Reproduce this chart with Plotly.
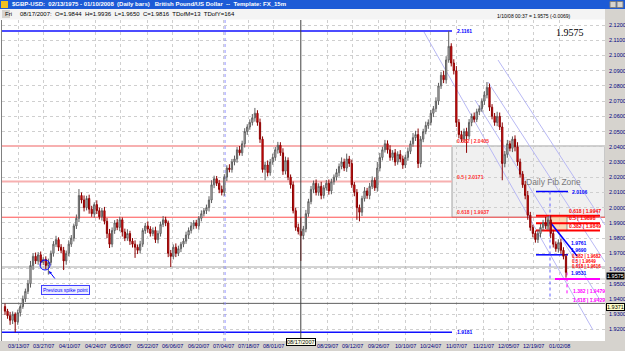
import plotly.graph_objects as go

# ---------------- data ----------------
closes = [
1.9320,1.9290,1.9260,1.9300,1.9250,1.9310,1.9350,1.9400,1.9450,1.9500,
1.9620,1.9680,1.9650,1.9690,1.9640,1.9660,1.9620,1.9640,1.9700,1.9760,
1.9790,1.9740,1.9720,1.9650,1.9700,1.9760,1.9800,1.9880,1.9930,2.0080,
2.0050,2.0000,2.0060,1.9990,1.9960,2.0020,1.9980,1.9940,1.9980,1.9910,
1.9830,1.9760,1.9850,1.9900,1.9870,1.9920,1.9840,1.9800,1.9830,1.9780,
1.9760,1.9740,1.9720,1.9760,1.9850,1.9880,1.9860,1.9830,1.9850,1.9790,
1.9830,1.9890,1.9920,1.9900,1.9700,1.9680,1.9740,1.9700,1.9730,1.9760,
1.9780,1.9820,1.9850,1.9880,1.9900,1.9880,1.9930,1.9960,1.9980,2.0000,
2.0050,2.0150,2.0190,2.0160,2.0120,2.0100,2.0200,2.0260,2.0250,2.0300,
2.0320,2.0380,2.0360,2.0420,2.0500,2.0530,2.0560,2.0590,2.0620,2.0560,
2.0450,2.0250,2.0280,2.0230,2.0300,2.0330,2.0380,2.0410,2.0360,2.0240,
2.0310,2.0200,2.0150,1.9980,1.9870,1.9844,1.9816,1.9860,1.9960,2.0040,
2.0120,2.0160,2.0100,2.0140,2.0080,2.0130,2.0160,2.0110,2.0170,2.0200,
2.0230,2.0270,2.0300,2.0260,2.0320,2.0290,2.0150,2.0100,2.0000,1.9970,
2.0060,2.0110,2.0080,2.0140,2.0180,2.0130,2.0260,2.0330,2.0380,2.0420,
2.0380,2.0330,2.0360,2.0300,2.0350,2.0320,2.0280,2.0330,2.0370,2.0420,
2.0460,2.0480,2.0290,2.0450,2.0500,2.0540,2.0560,2.0620,2.0650,2.0700,
2.0800,2.0870,2.0840,2.0970,2.1060,2.0950,2.0900,2.0560,2.0480,2.0450,
2.0500,2.0470,2.0560,2.0600,2.0580,2.0630,2.0650,2.0700,2.0740,2.0790,
2.0660,2.0600,2.0560,2.0600,2.0530,2.0290,2.0350,2.0420,2.0390,2.0450,
2.0400,2.0300,2.0220,2.0150,2.0080,1.9950,1.9870,1.9830,1.9790,1.9830,
1.9870,1.9900,1.9880,1.9920,1.9830,1.9760,1.9730,1.9770,1.9720,1.9680,1.9575]
first_open = 1.9350
# upper / lower wick lengths in pips
up_wick = [
20,15,25,18,12,20,15,22,18,25,
30,20,25,18,22,15,20,25,18,20,
25,15,20,22,18,25,20,15,25,42,
20,30,18,25,22,15,28,20,18,25,
22,30,20,18,25,20,15,22,28,18,
20,25,18,22,15,20,30,18,20,25,
20,18,25,20,15,22,18,25,20,15,
18,22,20,25,18,20,15,22,18,20,
25,30,20,18,22,25,20,18,25,20,
22,18,25,20,22,18,20,25,35,20,
25,18,22,30,20,25,18,22,20,30,
25,20,18,22,20,25,92,20,25,18,
22,18,25,20,30,18,22,25,20,18,
25,20,30,22,35,20,25,18,22,20,
18,25,20,22,25,18,40,30,20,25,
22,30,18,25,20,28,22,18,25,20,
30,25,40,20,18,25,20,22,18,25,
20,22,30,25,101,20,25,30,22,25,
20,25,22,18,25,20,22,18,25,35,
25,20,22,30,25,30,22,25,20,18,
25,30,22,20,25,30,22,18,20,25,
22,20,40,25,30,20,18,22,25,20,15]
dn_wick = [
25,20,30,25,69,20,25,15,20,18,
25,30,20,25,22,18,25,60,20,22,
18,25,20,60,25,20,18,22,20,25,
22,25,18,30,20,25,22,18,25,20,
30,25,20,22,18,25,30,20,18,25,
22,70,25,20,18,22,25,20,18,22,
25,20,18,22,25,70,20,25,18,22,
20,18,25,20,22,18,25,20,18,22,
25,20,22,18,25,20,22,25,18,20,
22,25,18,20,25,22,18,20,25,22,
25,20,70,25,20,18,22,25,20,25,
22,20,25,18,22,20,166,25,22,20,
18,25,20,22,25,20,18,25,22,20,
22,25,18,20,25,22,20,25,80,60,
25,20,22,25,18,20,25,22,20,18,
25,22,20,25,18,22,25,20,22,18,
20,22,30,25,20,18,22,20,25,22,
25,20,22,25,18,22,25,30,25,20,
20,110,22,25,20,18,22,20,25,22,
25,20,22,25,20,110,25,22,20,25,
30,25,22,20,25,30,22,25,20,22,
25,22,20,25,30,22,20,25,22,20,35]

tick_pos = [5.1,14.9,25.1,35.3,45.1,55.7,65.5,75.7,85.5,95.3,105.1,
            126.3,136.1,146.3,156.9,166.7,176.9,187.5,197.3,207.1,217.3]
tick_text = ["03/13/07","03/27/07","04/10/07","04/24/07","05/08/07","05/22/07",
             "06/06/07","06/20/07","07/04/07","07/18/07","08/01/07",
             "08/29/07","09/12/07","09/26/07","10/10/07","10/24/07","11/07/07",
             "11/21/07","12/05/07","12/19/07","01/02/08"]
y_ticks = [1.92,1.93,1.94,1.95,1.96,1.97,1.98,1.99,2.00,2.01,2.02,2.03,2.04,
           2.05,2.06,2.07,2.08,2.09,2.10,2.11,2.12]

swing_high, swing_low = 2.1161, 1.9181
big_fib_ratio = ["0.382", "0.5", "0.618"]
big_fib_price = [2.0405, 2.0171, 1.9937]
small_fib_high, small_fib_low = 2.0106, 1.9690
small_fib_price = [1.9947, 1.9898, 1.9849]
small_fib2_price = [1.9682, 1.9649, 1.9616]
ext_ratio = ["1.0", "1.382", "1.618"]
ext_price = [1.9531, 1.9479, 1.9429]
level_lines = [1.9610, 1.9531, 1.9371]
last_price = 1.9575
marker_bar = 116        # 08/17/2007
marker_bar2 = 86.3      # blue dotted vertical

assert len(closes) == len(up_wick) == len(dn_wick), (len(closes), len(up_wick), len(dn_wick))
opens = [first_open] + closes[:-1]
highs = [max(o, c) + u / 1e4 for o, c, u in zip(opens, closes, up_wick)]
lows = [min(o, c) - d / 1e4 for o, c, d in zip(opens, closes, dn_wick)]
idx = list(range(len(closes)))

# ---------------- geometry helpers (layout only) ----------------
W, H = 625, 351
PX0, PX1, PY0, PY1 = 2, 605, 20, 341
def bx(px): return (px - 5) / 2.55
def pp(py): return 2.12 - (py - 25) / 1522
def fx(px): return (px - PX0) / (PX1 - PX0)
def fy(py): return (PY1 - py) / (PY1 - PY0)
XR = [bx(PX0), bx(PX1)]
YR = [pp(PY1), pp(PY0)]
AXFONT = "Liberation Sans"

fig = go.Figure()
fig.add_trace(go.Candlestick(
    x=idx, open=opens, high=highs, low=lows, close=closes,
    increasing=dict(line=dict(color="#5e5e5e", width=1), fillcolor="#dadada"),
    decreasing=dict(line=dict(color="#8b0000", width=1), fillcolor="#ff1010"),
    whiskerwidth=0, showlegend=False, hoverinfo="skip"))

shapes = []
def rect_px(x0, y0, x1, y1, fill, line=None, layer="below"):
    shapes.append(dict(type="rect", xref="paper", yref="paper",
                       x0=fx(x0), x1=fx(x1), y0=fy(y1), y1=fy(y0),
                       fillcolor=fill, line=dict(width=1 if line else 0, color=line or fill),
                       layer=layer))
def dline(x0, y0, x1, y1, color, width=1, dash="solid", layer="between"):
    shapes.append(dict(type="line", xref="x", yref="y", x0=x0, y0=y0, x1=x1, y1=y1,
                       line=dict(color=color, width=width, dash=dash), layer=layer))

# window chrome
rect_px(0, 0, 625, 9, "#1d5bd6", layer="below")
rect_px(0, 9, 625, 19.5, "#f4f4f4", layer="below")
rect_px(605, 9, 625, 351, "#d6d3ce", layer="below")
rect_px(0, 341, 605, 351, "#d6d3ce", layer="below")
rect_px(1, 1, 8, 8, "#f0c020", layer="above")
rect_px(2, 10, 10, 18, "#d6d3ce", layer="above")
rect_px(610, 1.5, 616, 7.5, "#d6d3ce", line="#808080", layer="above")
rect_px(617, 1.5, 623, 7.5, "#d6d3ce", line="#808080", layer="above")
shapes.append(dict(type="line", xref="paper", yref="paper", x0=fx(1.5), x1=fx(1.5),
                   y0=0, y1=1, line=dict(color="#808080", width=1)))

# Daily Fib Zone box
box_x0 = bx(452)
shapes.append(dict(type="rect", xref="x", yref="y", x0=box_x0, x1=XR[1],
                   y0=big_fib_price[2], y1=big_fib_price[0],
                   fillcolor="#f0f0f0", line=dict(color="#a0a0a0", width=1), layer="below"))
# full-width level lines
dline(XR[0], level_lines[0], XR[1], level_lines[0], "#a8a8a8", 1)
dline(XR[0], level_lines[1], XR[1], level_lines[1], "#c4c4c4", 1)
dline(XR[0], level_lines[2], XR[1], level_lines[2], "#606060", 1)
# swing lines
dline(XR[0], swing_high, box_x0, swing_high, "#1010ff", 1.5)
dline(XR[0], swing_low, box_x0, swing_low, "#1010ff", 1.5)
# big fib lines
dline(XR[0], big_fib_price[0], box_x0, big_fib_price[0], "#f7b0b0", 2)
dline(XR[0], big_fib_price[1], box_x0, big_fib_price[1], "#f7b0b0", 2)
dline(XR[0], big_fib_price[2], XR[1], big_fib_price[2], "#ff5050", 1)
# verticals
dline(marker_bar, YR[0], marker_bar, YR[1], "#404040", 1, layer="above")
dline(marker_bar2, YR[0], marker_bar2, YR[1], "#9090ff", 1, "dot")
# channel lines
for (a, b, c, d) in [(424, 32, 593, 330), (488, 82, 605, 262), (475, 100, 600, 300), (498, 60, 605, 225)]:
    dline(bx(a), pp(b), bx(c), pp(d), "#b8b8f4", 1)
# small fib structure
sx0, sx1 = bx(536), bx(568)
shapes.append(dict(type="rect", xref="x", yref="y", x0=bx(547), x1=bx(567),
                   y0=small_fib_price[2], y1=small_fib_price[0],
                   fillcolor="rgba(250,200,150,0.7)", line=dict(color="#909090", width=1), layer="between"))
for p in small_fib_price:
    dline(sx0, p, bx(600), p, "#ff0000", 2)
dline(sx0, small_fib_high, sx1, small_fib_high, "#0000ff", 1.5)
dline(sx0, small_fib_low, sx1, small_fib_low, "#0000ff", 1.5)
dline(bx(550), small_fib_high, bx(550), pp(300), "#6060ff", 1, "dot")
dline(bx(550), pp(222), bx(577), pp(256), "#0000ff", 1.5)
dline(bx(555), ext_price[0], bx(600), ext_price[0], "#ff00ff", 2)
dline(bx(567), last_price, bx(567), ext_price[2] - 0.001, "#ff00ff", 1, "dot")
# previous spike circle
shapes.append(dict(type="circle", xref="x", yref="y", x0=bx(40), x1=bx(50),
                   y0=pp(270), y1=pp(260), line=dict(color="#0000ff", width=1)))
fig.update_layout(shapes=shapes)

ann = []
def txt(x, y, s, size=5, color="black", xanchor="left", yanchor="middle", xref="x", yref="y", family="Liberation Sans", **kw):
    ann.append(dict(x=x, y=y, text=s, showarrow=False, xref=xref, yref=yref,
                    xanchor=xanchor, yanchor=yanchor,
                    font=dict(size=size, color=color, family=family), **kw))

# axis labels drawn as text in the grey bands
for tp, tt in zip(tick_pos, tick_text):
    txt(tp, fy(346), tt, 5.5, "#000080", xanchor="center", yref="paper", family=AXFONT)
for yv in y_ticks:
    txt(fx(606.5), yv, "%.4f" % yv, 5.5, "#000080", xref="paper", family=AXFONT)

txt(fx(10), fy(4.5), "<b>$GBP-USD:  02/13/1975 - 01/10/2008  (Daily bars)   British Pound/US Dollar  --  Template: FX_15m</b>",
    6, "white", xref="paper", yref="paper")
txt(fx(3), fy(14.5), "Fri", 6, "#000000", xref="paper", yref="paper")
txt(fx(18), fy(14.5), "08/17/2007:  O=1.9844  H=1.9936  L=1.9650  C=1.9816  TDofM=13  TDofY=164",
    6, "black", xref="paper", yref="paper")
txt(fx(573), fy(16), "1/10/08 00:37 = 1.9575 (-0.0069)", 5, "black", xanchor="right", xref="paper", yref="paper")
ann.append(dict(x=fx(586), y=fy(25), xref="paper", yref="paper", text="1.9575", showarrow=False,
                font=dict(size=10, color="black", family="Liberation Serif")))

txt(bx(455), swing_high, "<b>%.4f</b>" % swing_high, 5, "#0000ff")
txt(bx(455), swing_low, "<b>%.4f</b>" % swing_low, 5, "#0000ff")
for r, p in zip(big_fib_ratio, big_fib_price):
    txt(bx(455), p, "<b>%s | %.4f</b>" % (r, p), 5, "#ff3030", yanchor="bottom")
txt(bx(553), big_fib_price[1] - 0.0005, "Daily Fib Zone", 8.5, "#7a7a7a", xanchor="center")
for r, p in zip(big_fib_ratio[::-1], small_fib_price):
    txt(bx(567), p, "<b>%s | %.4f</b>" % (r, p), 5, "#ff0000", yanchor="bottom")
txt(bx(570), small_fib_high, "<b>%.4f</b>" % small_fib_high, 5, "#0000ff")
txt(bx(569), small_fib_low, "<b>%.4f</b>" % small_fib_low, 5, "#0000ff", yanchor="bottom")
txt(bx(569), pp(243), "<b>1.9761</b>", 5, "#0000ff")
for r, p in zip(big_fib_ratio, small_fib2_price):
    txt(bx(570), p, "<b>%s | %.4f</b>" % (r, p), 4.5, "#ff0000")
txt(bx(569), ext_price[0] + 0.0004, "<b>%.4f</b>" % ext_price[0], 5, "#0000ff", yanchor="bottom")
txt(bx(571), pp(291), "<b>%s | %.4f</b>" % (ext_ratio[1], ext_price[1]), 5, "#ff00ff")
txt(bx(571), pp(300), "<b>%s | %.4f</b>" % (ext_ratio[2], ext_price[2]), 5, "#ff00ff")
# previous spike point label
ann.append(dict(x=bx(65), y=pp(290), xref="x", yref="y", text="Previous spike point",
                showarrow=False, font=dict(size=5, color="#0000ff", family="Liberation Sans"),
                bordercolor="#4040ff", borderwidth=1, borderpad=1, bgcolor="#eeeeff"))
ann.append(dict(x=bx(49), y=pp(271), ax=bx(56), ay=pp(280), xref="x", yref="y", axref="x", ayref="y",
                text="", showarrow=True, arrowhead=2, arrowsize=0.6, arrowwidth=1, arrowcolor="#0000ff"))
# axis tags
ann.append(dict(x=1.002, y=last_price, xref="paper", yref="y", text="1.9575", showarrow=False,
                xanchor="left", yanchor="top", font=dict(size=5.5, color="white", family="Liberation Sans"),
                bgcolor="black", borderpad=0))
ann.append(dict(x=1.002, y=level_lines[2], xref="paper", yref="y", text="1.9371", showarrow=False,
                xanchor="left", yanchor="top", font=dict(size=5.5, color="black", family="Liberation Sans"),
                bgcolor="#ffffc8", bordercolor="black", borderwidth=1, borderpad=0))
ann.append(dict(x=marker_bar, y=fy(346), xref="x", yref="paper", text="08/17/2007", showarrow=False,
                font=dict(size=5.5, color="black", family="Liberation Sans"),
                bgcolor="#ffffe8", bordercolor="black", borderwidth=1, borderpad=0))
fig.update_layout(annotations=ann)

fig.update_layout(
    width=W, height=H, margin=dict(l=PX0, r=W - PX1, t=PY0, b=H - PY1, autoexpand=False),
    paper_bgcolor="white", plot_bgcolor="white",
    xaxis=dict(range=XR, rangeslider=dict(visible=False), tickvals=tick_pos, ticktext=tick_text,
               showticklabels=False, showgrid=True, gridcolor="#cfcfcf", griddash="dot", gridwidth=1,
               ticks="", zeroline=False, showline=False, fixedrange=True),
    yaxis=dict(range=YR, side="right", tickvals=y_ticks, showticklabels=False,
               showgrid=True, gridcolor="#cfcfcf", griddash="dot", gridwidth=1,
               ticks="", zeroline=False, showline=False),
)
fig.write_html("out.html")
